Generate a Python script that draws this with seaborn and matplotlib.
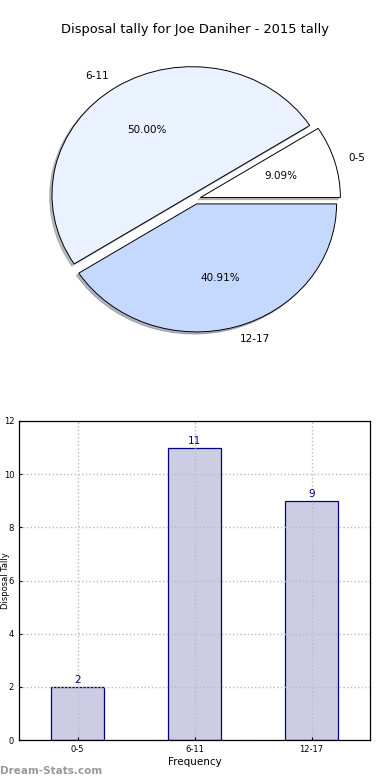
import matplotlib
matplotlib.use("Agg")
import matplotlib.pyplot as plt
import seaborn as sns
import pandas as pd

categories = ["0-5", "6-11", "12-17"]
counts = [2, 11, 9]
pie_colors = ["#FFFFFF", "#EAF1FF", "#C5D9FF"]
title = "Disposal tally for Joe Daniher - 2015 tally"

plt.rcParams['font.family'] = ['DejaVu Sans']

fig = plt.figure(figsize=(3.9, 7.8), dpi=100)

# Pie chart
axp = fig.add_axes([20/390, 421/780, 350/390, 320/780])
wedges, texts, autotexts = axp.pie(
    counts, labels=categories, colors=pie_colors, autopct="%1.2f%%",
    explode=[0.04, 0.04, 0.04],
    shadow={"ox": -0.012, "oy": -0.012, "shade": 0.5},
    startangle=0,
    wedgeprops=dict(edgecolor="black", linewidth=0.7),
    textprops=dict(fontsize=7.5, color="black"))
axp.set_aspect("auto")
axp.set_xlim(-1.25, 1.25)
axp.set_ylim(-1.25, 1.25)
fig.text(0.5, 1 - 30/780, title, ha="center", va="center", fontsize=9.4)

# Bar chart
axb = fig.add_axes([19/390, 40/780, 351/390, 319/780])
df = pd.DataFrame({"cat": categories, "val": counts})
sns.barplot(data=df, x="cat", y="val", ax=axb, color="#CCCCE5",
            edgecolor="#000080", linewidth=0.9, width=0.45, saturation=1)
axb.set_xlim(-0.5, 2.5)
axb.set_ylim(0, 12)
axb.set_yticks([0, 2, 4, 6, 8, 10, 12])
axb.grid(True, linestyle=":", color="#BBBBBB", linewidth=1.0)
axb.set_axisbelow(False)
for s in axb.spines.values():
    s.set_color("black")
    s.set_linewidth(0.9)
    s.set_zorder(4)
axb.tick_params(labelsize=6, length=2, direction="in")
axb.set_xlabel("Frequency", fontsize=7.5, labelpad=2)
axb.set_ylabel("Disposal Tally", fontsize=6)
axb.yaxis.set_label_coords(-0.027, 0.5)
for i, v in enumerate(counts):
    axb.annotate(str(v), (i, v), xytext=(0, 1.5), textcoords="offset points",
                 ha="center", va="bottom", color="#000080", fontsize=7.5)

fig.text(0.0, 1 - 771/780, "Dream-Stats.com", ha="left", va="center",
         fontsize=7.5, color="#999999", fontweight="bold")

fig.savefig("out.png", dpi=100)
